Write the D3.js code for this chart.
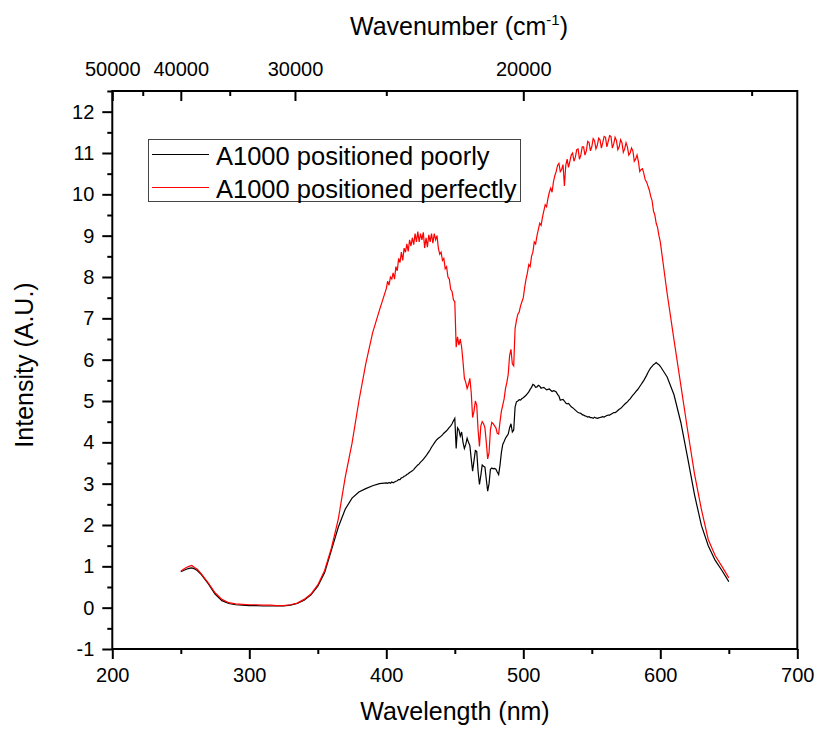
<!DOCTYPE html>
<html>
<head>
<meta charset="utf-8">
<script src="https://cdn.jsdelivr.net/npm/d3@7"></script>
<style>
    body { margin: 0; background: #fff; }
    text { font-family: "Liberation Sans", Arial, sans-serif; fill: #000; }
</style>
</head>
<body>
<div id="wrapper"></div>
<script>
// wavelength grid in nm
const wavelength = [
    250, 252, 254, 256, 258, 260, 262, 265, 270, 275,
    280, 285, 290, 295, 300, 305, 310, 315, 320, 325,
    330, 335, 340, 345, 350, 355, 360, 365, 370, 375,
    380, 385, 390, 395, 400,
    401, 402, 403, 404, 405, 406, 407, 408, 409, 410,
    411, 412, 413, 414, 415, 416, 417, 418, 419, 420,
    421, 422, 423, 424, 425, 426, 427, 428, 429, 430,
    431, 432, 433, 434, 435, 436, 437, 438, 439, 440,
    441, 442, 443, 444, 445, 446, 447, 448, 449, 450,
    451, 452, 453, 454, 455, 456, 457, 458, 459, 460,
    461, 462, 463, 464, 465, 466, 467, 468, 469, 470,
    471, 472, 473, 474, 475, 476, 477, 478, 479, 480,
    481, 482, 483, 484, 485, 486, 487, 488, 489, 490,
    491, 492, 493, 494, 495, 496, 497, 498, 499, 500,
    501, 502, 503, 504, 505, 506, 507, 508, 509, 510,
    511, 512, 513, 514, 515, 516, 517, 518, 519, 520,
    521, 522, 523, 524, 525, 526, 527, 528, 529, 530,
    531, 532, 533, 534, 535, 536, 537, 538, 539, 540,
    541, 542, 543, 544, 545, 546, 547, 548, 549, 550,
    551, 552, 553, 554, 555, 556, 557, 558, 559, 560,
    561, 562, 563, 564, 565, 566, 567, 568, 569, 570,
    571, 572, 573, 574, 575, 576, 577, 578, 579, 580,
    581, 582, 583, 584, 585, 586, 587, 588, 589, 590,
    591, 592, 593, 594, 595, 596, 597, 598, 599, 600,
    605, 610, 615, 620, 625, 630, 635, 640, 645, 650
];

// "A1000 positioned poorly" (black)
const poorly = [
    0.87, 0.90, 0.93, 0.95, 0.96, 0.94, 0.90, 0.80, 0.58, 0.33,
    0.17, 0.10, 0.07, 0.06, 0.05, 0.05, 0.04, 0.04, 0.04, 0.04,
    0.06, 0.10, 0.18, 0.31, 0.52, 0.85, 1.40, 1.95, 2.38, 2.65,
    2.80, 2.88, 2.95, 3.00, 3.02,
    3.01, 3.03, 3.01, 3.04, 3.02, 3.04, 3.06, 3.07, 3.10, 3.10,
    3.14, 3.15, 3.18, 3.19, 3.22, 3.24, 3.27, 3.29, 3.31, 3.34,
    3.38, 3.42, 3.45, 3.48, 3.52, 3.55, 3.59, 3.63, 3.67, 3.72,
    3.77, 3.82, 3.88, 3.93, 3.98, 4.03, 4.07, 4.10, 4.12, 4.15,
    4.18, 4.22, 4.25, 4.28, 4.32, 4.36, 4.40, 4.45, 4.52, 4.58,
    3.85, 4.35, 4.30, 4.15, 4.25, 4.00, 3.85, 3.95, 4.10, 4.00,
    3.92, 3.60, 3.30, 3.55, 3.80, 3.78, 3.30, 2.98, 3.20, 3.45,
    3.42, 3.40, 3.10, 2.82, 3.00, 3.35, 3.38, 3.36, 3.37, 3.35,
    3.28, 3.22, 3.45, 3.75, 3.95, 4.02, 4.10, 4.15, 4.20, 4.35,
    4.45, 4.25, 4.30, 4.85, 4.98, 5.00, 5.03, 5.02, 5.06, 5.08,
    5.11, 5.14, 5.18, 5.22, 5.28, 5.33, 5.40, 5.38, 5.33, 5.34,
    5.38, 5.36, 5.31, 5.32, 5.33, 5.30, 5.27, 5.28, 5.29, 5.26,
    5.23, 5.25, 5.24, 5.22, 5.16, 5.12, 5.02, 5.03, 5.04, 5.00,
    4.95, 4.93, 4.94, 4.90, 4.86, 4.84, 4.81, 4.78, 4.75, 4.72,
    4.71, 4.70, 4.67, 4.66, 4.64, 4.63, 4.61, 4.62, 4.60, 4.60,
    4.58, 4.61, 4.59, 4.58, 4.59, 4.60, 4.61, 4.62, 4.61, 4.63,
    4.65, 4.66, 4.66, 4.68, 4.70, 4.72, 4.72, 4.74, 4.77, 4.80,
    4.82, 4.85, 4.89, 4.92, 4.95, 4.98, 5.02, 5.05, 5.10, 5.14,
    5.18, 5.22, 5.26, 5.30, 5.35, 5.40, 5.45, 5.50, 5.56, 5.62,
    5.69, 5.75, 5.80, 5.84, 5.88, 5.90, 5.93, 5.90, 5.88, 5.84,
    5.58, 5.15, 4.48, 3.62, 2.73, 1.99, 1.50, 1.15, 0.90, 0.63
];

// "A1000 positioned perfectly" (red)
const perfectly = [
    0.88, 0.93, 0.97, 1.00, 1.02, 0.97, 0.93, 0.82, 0.60, 0.36,
    0.20, 0.12, 0.09, 0.08, 0.07, 0.07, 0.06, 0.06, 0.05, 0.05,
    0.07, 0.11, 0.20, 0.33, 0.55, 0.90, 1.45, 2.15, 3.15, 3.98,
    5.00, 5.90, 6.65, 7.20, 7.72,
    7.90, 7.80, 8.00, 7.95, 8.10, 7.95, 8.25, 8.15, 8.45, 8.35,
    8.60, 8.40, 8.70, 8.60, 8.80, 8.62, 8.90, 8.75, 8.95, 8.78,
    9.05, 8.85, 9.10, 8.85, 9.05, 8.90, 9.08, 8.70, 8.95, 8.72,
    9.02, 8.85, 9.05, 8.82, 9.05, 8.90, 9.00, 8.70, 8.55, 8.60,
    8.40, 8.45, 8.20, 8.25, 8.00, 7.95, 7.70, 7.65, 7.45, 7.40,
    6.30, 6.55, 6.35, 6.50, 6.30, 5.95, 5.55, 5.45, 5.30, 5.40,
    5.55, 5.20, 4.60, 4.75, 5.00, 4.90, 4.30, 3.90, 4.40, 4.50,
    4.45, 4.35, 4.00, 3.60, 3.75, 4.30, 4.48, 4.45, 4.40, 4.35,
    4.22, 4.20, 4.50, 4.75, 4.90, 5.05, 5.30, 5.45, 5.65, 6.10,
    6.25, 5.90, 5.85, 6.75, 6.95, 7.10, 7.15, 7.30, 7.40, 7.50,
    7.75, 7.95, 8.10, 8.30, 8.25, 8.50, 8.60, 8.85, 8.80, 9.00,
    9.15, 9.30, 9.25, 9.45, 9.60, 9.75, 9.70, 9.90, 10.05, 10.15,
    10.05, 10.30, 10.45, 10.55, 10.70, 10.75, 10.55, 10.60, 10.72, 10.20,
    10.70, 10.85, 10.65, 10.80, 10.95, 11.00, 10.80, 10.90, 11.08, 11.10,
    10.85, 10.95, 11.15, 11.15, 10.95, 11.05, 11.28, 11.25, 11.05, 11.15,
    11.35, 11.30, 11.10, 11.18, 11.36, 11.32, 11.12, 11.25, 11.40, 11.38,
    11.15, 11.28, 11.42, 11.40, 11.12, 11.22, 11.38, 11.30, 11.08, 11.15,
    11.32, 11.25, 11.02, 11.10, 11.25, 11.15, 10.95, 11.00, 11.12, 11.05,
    10.80, 10.85, 10.95, 10.80, 10.55, 10.60, 10.62, 10.50, 10.35, 10.30,
    10.20, 10.10, 9.95, 9.85, 9.60, 9.50, 9.30, 9.20, 9.00, 8.85,
    7.60, 6.48, 5.38, 4.28, 3.23, 2.38, 1.65, 1.26, 1.00, 0.72
];

const seriesNames = ["A1000 positioned poorly", "A1000 positioned perfectly"];
const seriesColors = ["#000000", "#ff0000"];
const xTicks = [200, 300, 400, 500, 600, 700];
const xMinorTicks = [250, 350, 450, 550, 650];
const yTicks = [-1, 0, 1, 2, 3, 4, 5, 6, 7, 8, 9, 10, 11, 12];
const yMinorTicks = [-0.5, 0.5, 1.5, 2.5, 3.5, 4.5, 5.5, 6.5, 7.5, 8.5, 9.5, 10.5, 11.5, 12.5];
const wavenumberTicks = [50000, 40000, 30000, 20000];
const wavenumberMinorTicks = [45000, 35000, 25000, 15000];

function buildPlot() {
    const dimension = {
        width: 818,
        height: 729,
        margin: { top: 91, left: 112.3, bottom: 80, right: 20.7 }
    };
    dimension.boundedWidth = dimension.width - dimension.margin.left - dimension.margin.right;
    dimension.boundedHeight = dimension.height - dimension.margin.top - dimension.margin.bottom;

    const svg = d3.select("#wrapper").append("svg")
        .attr("width", dimension.width)
        .attr("height", dimension.height);

    const bounded = svg.append("g")
        .attr("transform", `translate(${dimension.margin.left},${dimension.margin.top})`);

    const xScaler = d3.scaleLinear().domain([200, 700]).range([0, dimension.boundedWidth]);
    const yScaler = d3.scaleLinear().domain([-1, 12.5]).range([dimension.boundedHeight, 0]);

    // top axis: wavenumber = 1e7 / wavelength
    const wnScaler = Object.assign(wn => xScaler(1e7 / wn), {
        range: () => xScaler.range(),
        copy: () => wnScaler
    });

    const styleAxis = g => {
        g.select(".domain").remove();
        g.selectAll("line").attr("stroke", "#000").attr("stroke-width", 2);
        g.selectAll("text").style("font-size", "20px").style("font-family", "Liberation Sans, Arial, sans-serif");
    };

    // curves
    const points = wavelength.map((w, i) => ({ w, a: poorly[i], b: perfectly[i] }));
    const lineA = d3.line().x(d => xScaler(d.w)).y(d => yScaler(d.a));
    const lineB = d3.line().x(d => xScaler(d.w)).y(d => yScaler(d.b));

    bounded.append("path")
        .attr("d", lineA(points))
        .attr("fill", "none")
        .attr("stroke", seriesColors[0])
        .attr("stroke-width", 1.2);

    bounded.append("path")
        .attr("d", lineB(points))
        .attr("fill", "none")
        .attr("stroke", seriesColors[1])
        .attr("stroke-width", 1.2);

    // bottom axis
    bounded.append("g")
        .attr("transform", `translate(0,${dimension.boundedHeight})`)
        .call(d3.axisBottom(xScaler).tickValues(xTicks).tickSize(10).tickPadding(9))
        .call(styleAxis);
    bounded.append("g")
        .attr("transform", `translate(0,${dimension.boundedHeight})`)
        .call(d3.axisBottom(xScaler).tickValues(xMinorTicks).tickSize(5).tickFormat(""))
        .call(styleAxis);

    // left axis
    bounded.append("g")
        .call(d3.axisLeft(yScaler).tickValues(yTicks).tickSize(10).tickPadding(8).tickFormat(d => String(d)))
        .call(styleAxis);
    bounded.append("g")
        .call(d3.axisLeft(yScaler).tickValues(yMinorTicks).tickSize(5).tickFormat(""))
        .call(styleAxis);

    // top axis, ticks inside
    bounded.append("g")
        .call(d3.axisTop(wnScaler).tickValues(wavenumberTicks).tickSize(-10).tickPadding(15).tickFormat(d3.format("d")))
        .call(styleAxis);
    bounded.append("g")
        .call(d3.axisTop(wnScaler).tickValues(wavenumberMinorTicks).tickSize(-5).tickFormat(""))
        .call(styleAxis);

    // frame
    bounded.append("rect")
        .attr("width", dimension.boundedWidth)
        .attr("height", dimension.boundedHeight)
        .attr("fill", "none")
        .attr("stroke", "#000")
        .attr("stroke-width", 2);

    // legend
    const legend = svg.append("g");
    legend.append("rect")
        .attr("x", 148.5).attr("y", 139.5)
        .attr("width", 372).attr("height", 62)
        .attr("fill", "#fff")
        .attr("stroke", "#444")
        .attr("stroke-width", 1);
    seriesNames.forEach((name, i) => {
        const cy = 154.5 + i * 33;
        legend.append("line")
            .attr("x1", 152).attr("x2", 209)
            .attr("y1", cy).attr("y2", cy)
            .attr("stroke", seriesColors[i])
            .attr("stroke-width", 1.2);
        legend.append("text")
            .attr("x", 216)
            .attr("y", cy + 10)
            .style("font-size", "25.5px")
            .text(name);
    });

    // axis titles
    svg.append("text")
        .attr("x", 455)
        .attr("y", 720)
        .attr("text-anchor", "middle")
        .style("font-size", "25px")
        .text("Wavelength (nm)");

    svg.append("text")
        .attr("transform", "rotate(-90)")
        .attr("x", -365)
        .attr("y", 33)
        .attr("text-anchor", "middle")
        .style("font-size", "25px")
        .text("Intensity (A.U.)");

    const title = svg.append("text")
        .attr("x", 459)
        .attr("y", 35)
        .attr("text-anchor", "middle")
        .style("font-size", "25px");
    title.append("tspan").text("Wavenumber (cm");
    title.append("tspan").attr("dy", -10).style("font-size", "15px").text("-1");
    title.append("tspan").attr("dy", 10).text(")");
}

buildPlot();
</script>
</body>
</html>
